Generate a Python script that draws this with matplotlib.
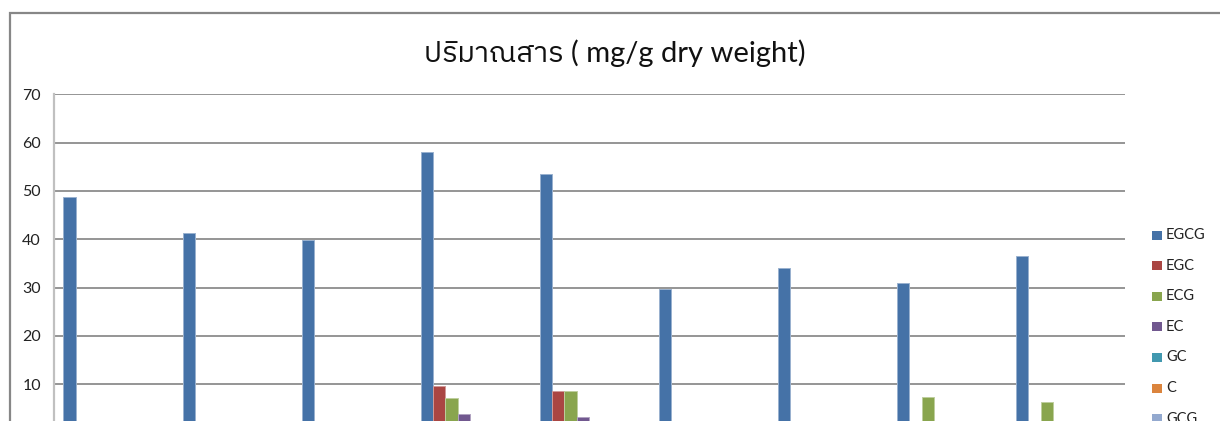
import matplotlib
matplotlib.use("Agg")
import matplotlib.pyplot as plt
from matplotlib import font_manager
from matplotlib.patches import Rectangle
import numpy as np

# ---------------- data ----------------
categories = ["1", "2", "3", "4", "5", "6", "7", "8", "9"]
series_names = ["EGCG", "EGC", "ECG", "EC", "GC", "C", "GCG", "CG"]
EGCG = [48.7, 41.2, 39.9, 58.1, 53.5, 29.7, 34.1, 31.0, 36.5]
EGC = [0, 0, 0, 9.6, 8.7, 0, 0, 0, 0]
ECG = [0, 0, 0, 7.2, 8.7, 0, 0, 7.3, 6.3]
EC = [0, 0, 0, 3.9, 3.2, 0, 0, 0, 0]
GC = [0, 0, 0, 0, 0, 0, 0, 0, 0]
C = [0, 0, 0, 0, 0, 0, 0, 0, 0]
GCG = [0, 0, 0, 0, 0, 0, 0, 0, 0]
CG = [0, 0, 0, 0, 0, 0, 0, 0, 0]
series_values = [EGCG, EGC, ECG, EC, GC, C, GCG, CG]
yticks = [0, 10, 20, 30, 40, 50, 60, 70]
title = "ปริมาณสาร ( mg/g dry weight)"

colors = ["#4572A7", "#AA4643", "#89A54E", "#71588F",
          "#4198AF", "#DB843D", "#93A9CF", "#D19392"]

# ---------------- fonts ----------------
def find_thai_font():
    try:
        from fontTools.ttLib import TTFont
    except Exception:
        return None
    preferred = []
    others = []
    for f in font_manager.fontManager.ttflist:
        try:
            tt = TTFont(f.fname, fontNumber=0, lazy=True)
            cmap = tt.getBestCmap()
            if cmap and ord("ป") in cmap and ord("ณ") in cmap:
                if "Thai" in f.name or "Looped" in f.name:
                    preferred.append(f.name)
                else:
                    others.append(f.name)
        except Exception:
            continue
    if preferred:
        return preferred[0]
    if others:
        return others[0]
    return None

thai = find_thai_font()
base_font = "Lato"
fam = [base_font] + ([thai] if thai else []) + ["DejaVu Sans"]
plt.rcParams["font.family"] = fam

W, H = 1220, 421
fig = plt.figure(figsize=(W / 100, H / 100), dpi=100)

def fx(px):
    return px / W

def fy(py):
    return (H - py) / H

# outer chart-area border
fig.patches.append(Rectangle((fx(9.5), fy(460)), fx(1300) - fx(9.5), fy(13.5) - fy(460),
                             transform=fig.transFigure, fill=False,
                             edgecolor="#878787", linewidth=1.6, clip_on=False))

# axes: left 53.5, right 1125, y=0 at 432.6, y=70 at 94.3
ax_left, ax_right = 53.5, 1125
y0_px, y70_px = 432.6, 94.3
ax = fig.add_axes([fx(ax_left), fy(y0_px), fx(ax_right) - fx(ax_left), fy(y70_px) - fy(y0_px)])
ax.set_ylim(0, 70)
ax.set_xlim(-0.5, len(categories) - 0.5)

n = len(series_names)
bw = 12.4 / 119.1
x = np.arange(len(categories))

def lighten(c, a=0.45):
    r, g, b = matplotlib.colors.to_rgb(c)
    return (r + (1 - r) * a, g + (1 - g) * a, b + (1 - b) * a)

for i, (name, vals) in enumerate(zip(series_names, series_values)):
    offs = (i - (n - 1) / 2) * bw
    ax.bar(x + offs, vals, width=bw, color=colors[i], edgecolor=lighten(colors[i]),
           linewidth=0.7, label=name, zorder=3)

ax.set_yticks(yticks)
ax.set_yticklabels([str(v) for v in yticks], fontsize=11.5, color="#222222")
ax.tick_params(axis="y", length=0, pad=9)
ax.set_xticks(x)
ax.set_xticklabels(categories)
# category labels lie below the visible (cropped) region of the chart
ax.tick_params(axis="x", length=0, labelbottom=False)
ax.yaxis.grid(True, color="#8C8C8C", linewidth=1.3, zorder=0)
ax.set_axisbelow(True)
for s in ["top", "right", "bottom"]:
    ax.spines[s].set_visible(False)
ax.spines["left"].set_color("#C0C0C0")
ax.spines["left"].set_linewidth(1.6)

# title
fig.text(fx(615), fy(53), title, ha="center", va="center", fontsize=21, color="#111111")

# legend (manual, Excel style)
for i, name in enumerate(series_names):
    yc = 235 + 30.6 * i
    fig.patches.append(Rectangle((fx(1152), fy(yc + 4.5)), fx(10), fy(yc - 4.5) - fy(yc + 4.5),
                                 transform=fig.transFigure, facecolor=colors[i],
                                 edgecolor="none", clip_on=False))
    fig.text(fx(1166), fy(yc), name, ha="left", va="center", fontsize=10.5, color="#222222")

fig.savefig("out.png", dpi=100)
